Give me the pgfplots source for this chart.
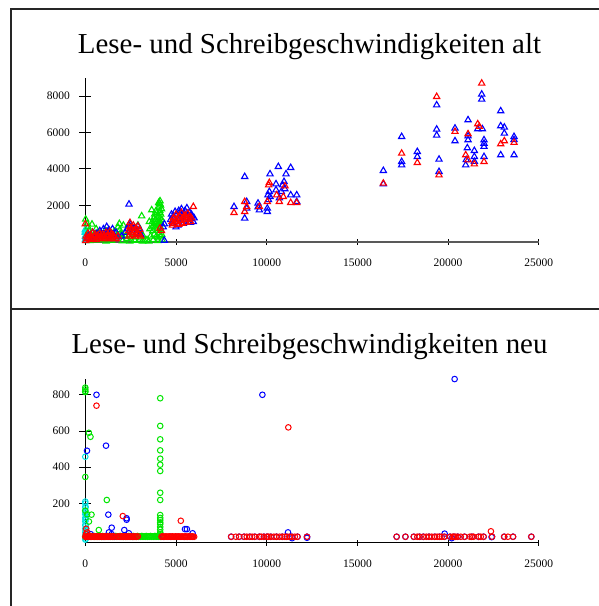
\documentclass[border=0pt]{standalone}
\usepackage{pgfplots}
\pgfplotsset{compat=1.18}
\usepackage{fontspec}
\setmainfont{Liberation Serif}
\definecolor{cgreen}{RGB}{0,230,0}
\definecolor{cred}{RGB}{255,0,0}
\definecolor{cblue}{RGB}{0,0,255}
\definecolor{ccyan}{RGB}{0,225,225}
\pgfplotsset{
  panel/.style={
    scale only axis, width=453.5pt,
    axis lines=left, axis line style={-, line width=1pt},
    enlargelimits=false, clip=false,
    xmin=0, xmax=25000, scaled x ticks=false, scaled y ticks=false,
    xtick={0,5000,10000,15000,20000,25000},
    tick align=center,
    tick style={black, line width=0.9pt},
    ytick style={/pgfplots/major tick length=12pt},
    xtick style={/pgfplots/major tick length=6pt},
    /pgf/number format/.cd, 1000 sep={}, assume math mode=true, /pgfplots/.cd,
    ticklabel style={font=\fontsize{11.5}{13}\selectfont, inner sep=0pt},
    yticklabel style={anchor=east, xshift=-13pt},
    xticklabel style={anchor=north, yshift=-15pt},
  },
  tri/.style={only marks, mark=triangle, mark size=3.6pt, mark options={line width=1.1pt}},
  circ/.style={only marks, mark=o, mark size=2.8pt, mark options={line width=1pt}},
}
\begin{document}
\begin{tikzpicture}[x=1pt,y=1pt]
\useasboundingbox (0,0) rectangle (598,606);
\draw[line width=1.8pt, black!85] (620,597) -- (11,597) -- (11,-10);
\draw[line width=1.8pt, black!85] (11,296.7) -- (620,296.7);
\node[anchor=base, font=\fontsize{28.9}{32}\selectfont] at (309.5,552) {Lese- und Schreibgeschwindigkeiten alt};
\node[anchor=base, font=\fontsize{28.9}{32}\selectfont] at (309.5,252) {Lese- und Schreibgeschwindigkeiten neu};

% ---------------- top: alt ----------------
\begin{axis}[panel, at={(85.3pt,364.3pt)}, anchor=south west,
  height=163.8pt, ymin=0, ymax=9000, ytick={2000,4000,6000,8000},
  x axis line style={black!65, line width=1.8pt}]
\addplot[tri, color=ccyan] coordinates {
(0,100)(0,300)(0,500)(0,640)(30,200)(50,400)(20,700)(80,150)(60,50)(100,300)(10,550)(40,250)};
\addplot[tri, color=cgreen] coordinates {
(20,1230)(100,1000)(150,800)(200,600)(300,400)(370,956)(450,300)(500,150)(600,700)(700,500)
(800,200)(900,350)(1000,100)(1100,600)(1180,550)(1200,250)(1300,450)(1400,150)(1500,300)(1600,550)
(1700,200)(1800,800)(1875,990)(1900,650)(1930,440)(2000,400)(2100,900)(2200,300)(2300,150)(2400,500)
(2500,250)(2600,700)(2700,100)(2800,450)(2900,900)(3000,600)(3050,200)(3108,1412)(3200,300)(3253,55)
(3400,100)(3530,1100)(3560,700)(3600,300)(3660,1742)(3700,1100)(3720,600)(3750,900)(3780,1300)(3800,400)
(3820,1500)(3850,800)(3880,1000)(3900,1200)(3920,300)(3950,1600)(3980,700)(4000,1400)(4020,900)(4046,2143)
(4050,1900)(4060,500)(4080,1100)(4100,2100)(4110,1700)(4120,2237)(4130,1300)(4140,800)(4150,2000)(4160,1500)
(4170,600)(4180,1000)(4200,1800)(4210,400)(4220,1200)(4230,100)(4000,200)(3750,100)(4100,1600)(3900,1700)
(4050,1000)(3850,1200)(3700,800)(4150,300)(250,50)(650,80)(1150,30)(1450,60)(2050,40)(2450,20)
(2750,60)(3150,30)(3500,20)(4000,50)};
\addplot[tri, color=cblue] coordinates {
(100,200)(200,350)(300,150)(400,500)(500,300)(600,450)(700,250)(800,600)(900,400)(1000,700)
(1100,300)(1180,824)(1200,550)(1300,650)(1400,400)(1500,700)(1600,350)(1700,500)(1800,250)(2000,300)
(2200,500)(2300,700)(2409,2055)(2400,900)(2450,1000)(2500,800)(2600,600)(2700,750)(2800,500)(2900,850)
(3000,700)(3050,400)(4357,972)(4357,66)(4300,800)
(4700,1200)(4750,1500)(4800,1000)(4850,1400)(4900,1300)(4950,1650)(5000,1100)(5050,1500)(5100,900)(5150,1700)
(5200,1250)(5250,1600)(5300,1800)(5350,1400)(5400,1200)(5450,1550)(5500,1700)(5550,1300)(5600,1850)(5650,1450)
(5700,1100)(5750,1600)(5800,1250)(5850,1500)(5900,1400)(5950,1100)(5000,800)(5400,1000)(5800,1050)(6000,1300)
(8198,1923)(8787,3572)(8787,1286)(8897,2198)(8897,1832)(9521,2109)(9595,1740)(10034,1649)(10070,2565)(10183,3719)
(10144,2748)(10183,2473)(10513,2840)(10513,3170)(10641,4121)(10955,3298)(10880,3115)(11065,3719)(11323,4066)(11323,2565)
(11655,2565)(11655,2198)(10034,1832)(10807,2748)(9521,1900)(10100,2300)(10700,2400)(11000,2900)
(16430,3902)(16430,3170)(17440,5770)(17440,4395)(17440,4212)(18303,4945)(18303,4670)(19370,7510)(19370,6176)(19370,5846)
(19500,4523)(19500,3847)(20380,6231)(20380,5535)(21100,6688)(21100,5590)(21060,5150)(20970,4212)(21446,5000)(21446,4670)
(21634,6194)(21853,8100)(21853,7822)(21890,6194)(21980,5590)(21980,5223)(21980,4670)(22900,7182)(22900,6359)(22900,4765)
(23100,6286)(23100,5957)(23635,5770)(23635,4765)(21100,5800)(21000,4500)(21450,4400)(23635,5600)(21980,5400)};
\addplot[tri, color=cred] coordinates {
(0,972)(20,50)(50,300)(100,150)(150,450)(200,250)(250,100)(300,350)(350,200)(400,500)
(450,150)(500,300)(550,400)(600,100)(650,250)(700,350)(750,200)(800,450)(850,300)(900,150)
(950,400)(1000,250)(1050,350)(1100,200)(1150,500)(1200,300)(1250,400)(1300,150)(1350,550)(1400,300)
(1450,450)(1500,200)(1550,350)(1600,250)(1700,150)(1800,300)(2400,600)(2420,300)(2450,800)(2464,1044)
(2500,500)(2550,700)(2600,400)(2650,900)(2700,600)(2750,300)(2800,750)(2850,500)(2900,850)(2950,400)
(3000,650)(3050,300)(4119,736)(4200,600)
(4780,1100)(4800,900)(4850,1300)(4900,1000)(4950,1200)(5000,1500)(5050,1100)(5100,1300)(5150,950)(5200,1400)
(5250,1150)(5300,1600)(5350,1000)(5400,1300)(5450,1200)(5500,1450)(5550,1050)(5600,1300)(5650,1550)(5700,1200)
(5750,1400)(5800,1100)(5850,1300)(5955,1923)
(8198,1594)(8787,2198)(8787,1649)(8897,1923)(9595,1923)(10034,2198)(10108,3115)(10144,3243)(10696,2198)(10550,2565)
(11010,3060)(10917,2473)(11323,2143)(11655,2143)
(16430,3206)(17440,4853)(18303,4340)(19370,7968)(19500,3664)(20380,6048)(21100,5920)(20970,4765)(21100,4487)(21446,4267)
(21634,6468)(21720,6322)(21853,8704)(21980,4395)(22900,5370)(23100,5535)(23635,5443)};
\end{axis}

% ---------------- bottom: neu ----------------
\begin{axis}[panel, at={(85.3pt,63.3pt)}, anchor=south west,
  height=164.2pt, ymin=-17, ymax=890, ytick={200,400,600,800}]
\addplot[circ, color=ccyan] coordinates {
(0,0)(0,20)(0,40)(0,60)(0,80)(0,100)(0,120)(0,140)(0,160)(0,180)(0,200)(0,210)(0,458)
(20,180)(10,150)(30,120)(20,80)(40,60)(10,20)(30,5)(50,30)(15,110)(25,50)};
\addplot[circ, color=cgreen] coordinates {
(0,830)(0,820)(0,840)(0,815)(197,590)(285,568)(0,346)(1185,219)(342,138)(744,53)(0,160)(100,140)(200,100)
(4130,781)(4130,628)(4130,554)(4130,493)(4130,447)(4130,414)(4130,379)(4130,259)(4130,219)(4130,136)
(4130,120)(4130,108)(4130,95)(4130,86)(4130,70)(4130,55)(4130,40)(4130,30)
(0,16)(60,16)(120,18)(180,16)(240,20)(300,16)(360,18)(420,16)(480,20)(540,16)(600,18)(660,16)(720,20)
(780,16)(840,18)(900,16)(960,20)(1020,16)(1080,18)(1140,16)(1200,20)(1260,16)(1320,18)(1380,16)(1440,20)
(1500,16)(1560,18)(1620,16)(1680,20)(1740,16)(1800,18)(1860,16)(1920,20)(1980,16)(2040,18)(2100,16)(2160,20)
(2220,16)(2280,18)(2340,16)(2400,20)(2460,16)(2520,18)(2580,16)(2640,20)(2700,16)(2760,18)(2820,16)(2880,20)
(2940,16)(3000,18)(3060,16)(3120,20)(3180,16)(3240,18)(3300,16)(3360,20)(3420,16)(3480,18)(3540,16)(3600,20)
(3660,16)(3720,18)(3780,16)(3840,20)(3900,16)(3960,18)(4020,16)(4080,20)(4140,16)(4200,18)};
\addplot[circ, color=cblue] coordinates {
(20360,887)(9763,800)(617,800)(1142,519)(94,491)(1270,138)(2277,118)(2277,110)(5496,58)(5600,58)
(5915,35)(1456,66)(2150,53)(11175,40)(19810,33)(1300,40)(1450,30)(2400,35)(300,30)
(8040,16)(8480,16)(8753,16)(9070,16)(9344,16)(9595,16)(9846,16)(10016,16)(10226,16)(10540,16)
(10856,16)(11110,16)(11384,16)(11698,16)(12222,16)(12222,10)(11400,8)
(17163,16)(17647,16)(18110,16)(18425,16)(18635,16)(18948,16)(19267,16)(19521,16)(19792,16)(20107,16)
(20322,16)(20531,16)(20906,16)(21308,16)(21683,16)(21958,16)(22421,16)(23093,16)(23579,16)(24588,16)(20200,8)(22400,14)
(4300,16)(4700,16)(5100,16)(5500,16)(5900,16)(1000,16)(1600,16)(2600,16)};
\addplot[circ, color=cred] coordinates {
(11192,620)(617,740)(2068,130)(5265,104)(22360,46)(50,60)(100,40)(30,30)
(0,16)(50,16)(100,18)(150,16)(200,16)(250,18)(300,16)(350,16)(400,18)(450,16)(500,16)(550,18)(600,16)
(650,16)(700,18)(750,16)(800,16)(850,18)(900,16)(950,16)(1000,18)(1050,16)(1100,16)(1150,18)(1200,16)
(1250,16)(1300,18)(1350,16)(1400,16)(1450,18)(1500,16)(1550,16)(1600,18)
(1750,16)(1810,18)(1870,16)(1930,16)(1990,18)(2050,16)(2110,16)(2170,18)(2230,16)(2290,16)(2350,18)
(2410,16)(2470,16)(2530,18)(2590,16)(2650,16)(2710,18)(2770,16)(2830,16)(2900,18)
(4200,16)(4260,18)(4320,16)(4380,16)(4440,18)(4500,16)(4560,16)(4620,18)(4680,16)(4740,16)(4800,18)
(4860,16)(4920,16)(4980,18)(5040,16)(5100,16)(5160,18)(5220,16)(5280,16)(5340,18)(5400,16)(5460,16)
(5520,18)(5580,16)(5640,16)(5700,18)(5760,16)(5820,16)(5880,18)(5940,16)(6000,16)
(8040,16)(8480,16)(8753,16)(9070,16)(9344,16)(9595,16)(9846,16)(10016,16)(10226,16)(10540,16)
(10856,16)(11110,16)(11384,16)(11698,16)(12222,16)(8300,16)(8900,16)(9200,16)(9700,16)(10100,16)
(10400,16)(10700,16)(11000,16)(11250,16)(11550,16)
(17163,16)(17647,16)(18110,16)(18425,16)(18635,16)(18948,16)(19267,16)(19521,16)(19792,16)(20107,16)
(20322,16)(20531,16)(20906,16)(21308,16)(21683,16)(21958,16)(22421,16)(23093,16)(23579,16)(24588,16)
(18300,16)(18800,16)(19100,16)(19400,16)(19650,16)(20250,16)(20400,16)(20700,16)(21200,16)(21400,16)
(21800,16)(23300,16)};
\end{axis}
\end{tikzpicture}
\end{document}
